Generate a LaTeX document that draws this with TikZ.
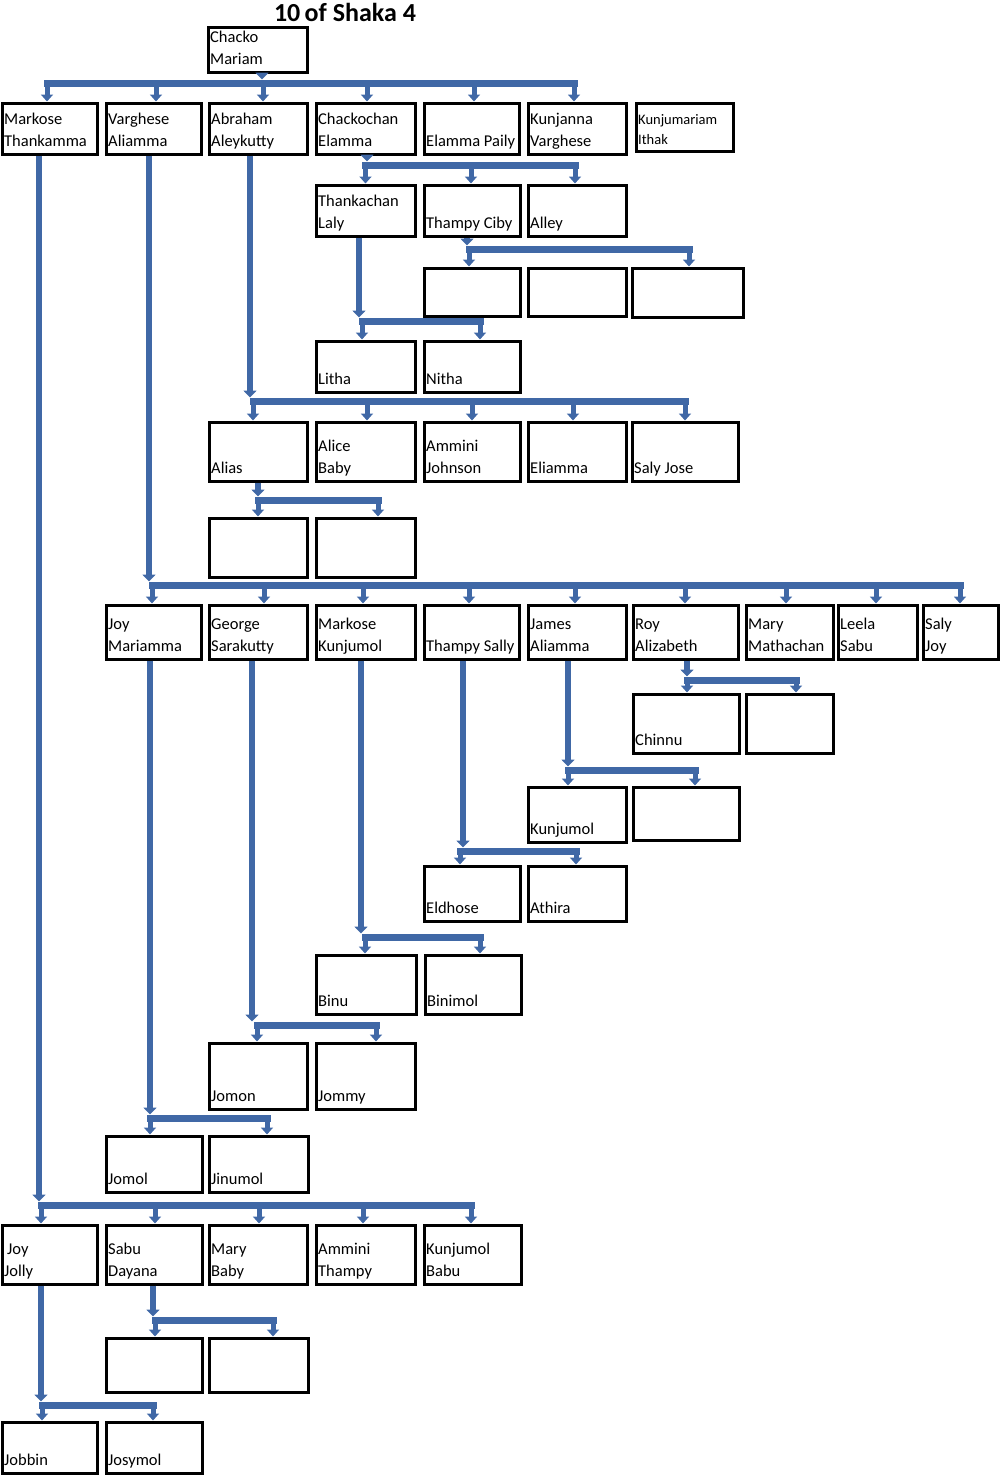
\documentclass[tikz,border=0pt]{standalone}
\usepackage{fontspec}
\setmainfont{Carlito}
\usetikzlibrary{arrows.meta}
\definecolor{conn}{RGB}{64,104,166}
\tikzset{
  box/.style={draw=black, line width=3pt, inner sep=0pt, fill=white},
  desc/.style={draw=conn, line width=5.5pt, -{Triangle[width=13pt,length=7pt]}},
  bar/.style={draw=conn, line width=7pt, line cap=rect},
  arr/.style={draw=conn, line width=5pt, -{Triangle[width=12pt,length=7pt]}},
  nm/.style={anchor=south west, align=left, inner xsep=3.5pt, inner ysep=0pt,
    text depth=0pt, yshift=8.5pt, font=\fontsize{16.5}{22}\selectfont},
  nmsmall/.style={nm, yshift=-0.5pt, font=\fontsize{14.5}{20}\selectfont},
}
\newcommand\bx[7][nm]{\node[box, minimum width={#5-#3}, minimum height={#6-#4},
  label={[#1]south west:{#7}}] (#2) at ({(#3+#5)/2},{(#4+#6)/2}) {};}
% bar coordinate, child node, dx, name
\newcommand\kid[4]{\coordinate (#4) at ([xshift=#3pt]#2.north); \draw[arr] (#4 |- #1) -- (#4);}
% bar name, parent, x, y
\newcommand\descend[4]{\coordinate (#1) at (#3,#4); \draw[desc] (#2.south -| #1) -- ([yshift=3.5pt]#1);}
\begin{document}
\begin{tikzpicture}[x=1pt,y=-1pt]
\useasboundingbox (0,0) rectangle (1000,1475);
\node[font=\bfseries\fontsize{26}{26}\selectfont] (title) at (345,12) {10\,of Shaka 4};

% ---------- boxes ----------
\bx{chacko}{208}{27}{307}{72}{Chacko\\Mariam}
\bx{markose}{2}{103}{97}{154}{Markose\\Thankamma}
\bx{varghese}{106}{103}{201}{154}{Varghese\\Aliamma}
\bx{abraham}{209}{103}{307}{154}{Abraham\\Aleykutty}
\bx{chackochan}{316}{103}{415}{154}{Chackochan\\Elamma}
\bx{elamma}{424}{103}{519}{154}{Elamma Paily}
\bx{kunjanna}{528}{103}{626}{154}{Kunjanna\\Varghese}
\bx[nmsmall]{kunjumariam}{636}{103}{733}{151}{Kunjumariam\\Ithak}

\bx{thankachan}{316}{185}{415}{236}{Thankachan\\Laly}
\bx{thampyciby}{424}{185}{520}{236}{Thampy Ciby}
\bx{alley}{528}{185}{626}{236}{Alley}

\bx{tc1}{424}{268}{520}{316}{}
\bx{tc2}{528}{268}{626}{316}{}
\bx{tc3}{632}{268}{743}{317}{}

\bx{litha}{316}{341}{415}{392}{Litha}
\bx{nitha}{424}{341}{520}{392}{Nitha}

\bx{alias}{209}{422}{307}{481}{Alias}
\bx{alice}{316}{422}{415}{481}{Alice\\Baby}
\bx{amminij}{424}{422}{520}{481}{Ammini\\Johnson}
\bx{eliamma}{528}{422}{626}{481}{Eliamma}
\bx{salyjose}{632}{422}{738}{481}{Saly Jose}

\bx{al1}{209}{518}{307}{577}{}
\bx{al2}{316}{518}{415}{577}{}

\bx{joym}{106}{605}{201}{659}{Joy\\Mariamma}
\bx{george}{209}{605}{307}{659}{George\\Sarakutty}
\bx{markosek}{316}{605}{415}{659}{Markose\\Kunjumol}
\bx{thampys}{424}{605}{519}{659}{Thampy Sally}
\bx{james}{528}{605}{626}{659}{James\\Aliamma}
\bx{roy}{633}{605}{738}{659}{Roy\\Alizabeth}
\bx{marym}{746}{605}{833}{659}{Mary\\Mathachan}
\bx{leela}{838}{605}{917}{659}{Leela\\Sabu}
\bx{salyjoy}{923}{605}{998}{659}{Saly\\Joy}

\bx{chinnu}{633}{694}{739}{753}{Chinnu}
\bx{roy2}{746}{694}{833}{753}{}

\bx{kunjumol}{528}{787}{626}{842}{Kunjumol}
\bx{james2}{633}{787}{739}{840}{}

\bx{eldhose}{424}{866}{520}{921}{Eldhose}
\bx{athira}{528}{866}{626}{921}{Athira}

\bx{binu}{316}{955}{416}{1014}{Binu}
\bx{binimol}{425}{955}{521}{1014}{Binimol}

\bx{jomon}{209}{1043}{307}{1109}{Jomon}
\bx{jommy}{316}{1043}{415}{1109}{Jommy}

\bx{jomol}{106}{1136}{202}{1192}{Jomol}
\bx{jinumol}{209}{1136}{308}{1192}{Jinumol}

\bx{joyj}{2}{1225}{97}{1284}{\hspace{3pt}Joy\\Jolly}
\bx{sabu}{106}{1225}{202}{1284}{Sabu\\Dayana}
\bx{maryb}{209}{1225}{307}{1284}{Mary\\Baby}
\bx{amminit}{316}{1225}{415}{1284}{Ammini\\Thampy}
\bx{kunjumolb}{424}{1225}{521}{1284}{Kunjumol\\Babu}

\bx{sb1}{106}{1338}{202}{1392}{}
\bx{sb2}{209}{1338}{308}{1392}{}

\bx{jobbin}{2}{1422}{97}{1473}{Jobbin}
\bx{josymol}{106}{1422}{202}{1473}{Josymol}

% ---------- connectors ----------
% Chacko Mariam
\descend{b0}{chacko}{262}{83}
\kid{b0}{markose}{-2.5}{k0a}\kid{b0}{varghese}{2.5}{k0b}\kid{b0}{abraham}{5}{k0c}
\kid{b0}{chackochan}{1.5}{k0d}\kid{b0}{elamma}{2.5}{k0e}\kid{b0}{kunjanna}{-3}{k0f}
\draw[bar] (k0a |- b0) -- (k0f |- b0);

% Chackochan Elamma
\descend{b1}{chackochan}{367}{165}
\kid{b1}{thankachan}{0}{k1a}\kid{b1}{thampyciby}{-1}{k1b}\kid{b1}{alley}{-2}{k1c}
\draw[bar] (k1a |- b1) -- (k1c |- b1);

% Thampy Ciby
\descend{b2}{thampyciby}{467}{249}
\kid{b2}{tc1}{-3}{k2a}\kid{b2}{tc3}{1.5}{k2b}
\draw[bar] (k2a |- b2) -- (k2b |- b2);

% Thankachan Laly
\descend{b3}{thankachan}{359}{321}
\kid{b3}{litha}{-3.5}{k3a}\kid{b3}{nitha}{8}{k3b}
\draw[bar] (k3a |- b3) -- (k3b |- b3);

% Abraham Aleykutty
\descend{b4}{abraham}{250}{401}
\kid{b4}{alias}{-5}{k4a}\kid{b4}{alice}{1.5}{k4b}\kid{b4}{amminij}{0}{k4c}
\kid{b4}{eliamma}{-4}{k4d}\kid{b4}{salyjose}{0}{k4e}
\draw[bar] (k4a |- b4) -- (k4e |- b4);

% Alias
\descend{b5}{alias}{258}{500}
\kid{b5}{al1}{0}{k5a}\kid{b5}{al2}{12.5}{k5b}
\draw[bar] (k5a |- b5) -- (k5b |- b5);

% Varghese Aliamma
\descend{b6}{varghese}{149}{585}
\kid{b6}{joym}{-1.5}{k6a}\kid{b6}{george}{6}{k6b}\kid{b6}{markosek}{-2.5}{k6c}
\kid{b6}{thampys}{-2.5}{k6d}\kid{b6}{james}{-2}{k6e}\kid{b6}{roy}{-0.5}{k6f}
\kid{b6}{marym}{-3.5}{k6g}\kid{b6}{leela}{-1.5}{k6h}\kid{b6}{salyjoy}{-0.5}{k6i}
\draw[bar] (k6a |- b6) -- (k6i |- b6);

% Roy Alizabeth
\descend{b7}{roy}{687}{680}
\kid{b7}{chinnu}{1}{k7a}\kid{b7}{roy2}{6.5}{k7b}
\draw[bar] (k7a |- b7) -- (k7b |- b7);

% James Aliamma
\descend{b8}{james}{568}{770}
\kid{b8}{kunjumol}{-9}{k8a}\kid{b8}{james2}{9}{k8b}
\draw[bar] (k8a |- b8) -- (k8b |- b8);

% Thampy Sally
\descend{b9}{thampys}{463}{851}
\kid{b9}{eldhose}{-12}{k9a}\kid{b9}{athira}{-1}{k9b}
\draw[bar] (k9a |- b9) -- (k9b |- b9);

% Markose Kunjumol
\descend{b10}{markosek}{361}{937}
\kid{b10}{binu}{-1}{k10a}\kid{b10}{binimol}{7}{k10b}
\draw[bar] (k10a |- b10) -- (k10b |- b10);

% George Sarakutty
\descend{b11}{george}{252}{1025}
\kid{b11}{jomon}{-1}{k11a}\kid{b11}{jommy}{10.5}{k11b}
\draw[bar] (k11a |- b11) -- (k11b |- b11);

% Joy Mariamma
\descend{b12}{joym}{150}{1118}
\kid{b12}{jomol}{-4}{k12a}\kid{b12}{jinumol}{8.5}{k12b}
\draw[bar] (k12a |- b12) -- (k12b |- b12);

% Markose Thankamma
\descend{b13}{markose}{39}{1205}
\kid{b13}{joyj}{-8.5}{k13a}\kid{b13}{sabu}{1}{k13b}\kid{b13}{maryb}{1}{k13c}
\kid{b13}{amminit}{-2.5}{k13d}\kid{b13}{kunjumolb}{-1.5}{k13e}
\draw[bar] (k13a |- b13) -- (k13e |- b13);

% Sabu Dayana
\descend{b14}{sabu}{153}{1320}
\kid{b14}{sb1}{1}{k14a}\kid{b14}{sb2}{14.5}{k14b}
\draw[bar] (k14a |- b14) -- (k14b |- b14);

% Joy Jolly
\descend{b15}{joyj}{41}{1405}
\kid{b15}{jobbin}{-7.5}{k15a}\kid{b15}{josymol}{-1}{k15b}
\draw[bar] (k15a |- b15) -- (k15b |- b15);
\end{tikzpicture}
\end{document}
